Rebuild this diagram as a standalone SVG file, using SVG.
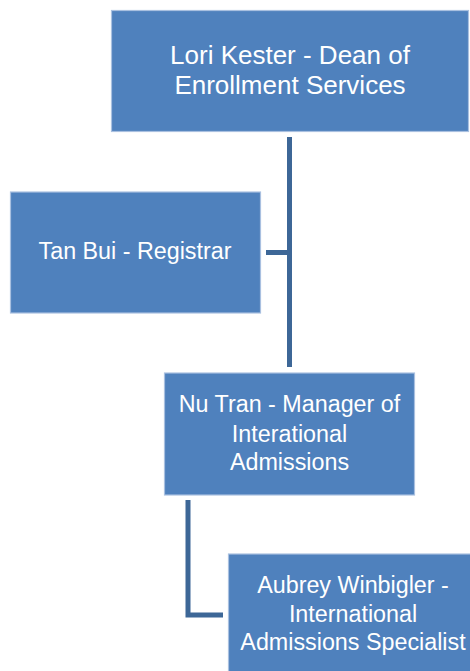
<svg xmlns="http://www.w3.org/2000/svg" width="470" height="671" viewBox="0 0 470 671">
<style>
.box{fill:#4f81bd;stroke:#a9c0e0;stroke-width:1.2}
.t{font-family:"Liberation Sans",Arial,sans-serif;font-size:23.3px;fill:#ffffff;text-anchor:middle}
.big{font-size:26px}
.c{fill:none;stroke:#3d6797;stroke-width:5;stroke-linejoin:miter}
</style>
<rect width="470" height="671" fill="#ffffff"/>
<g id="connectors">
<path class="c" d="M289.5,137 V367"/>
<path class="c" d="M266,252.5 H289.5"/>
<path class="c" d="M188,500 V615 H223"/>
</g>
<g id="lori">
<rect class="box" x="111.5" y="10.5" width="357" height="121"/>
<text class="t big" x="290" y="63.5">Lori Kester - Dean of</text>
<text class="t big" x="290" y="93.5">Enrollment Services</text>
</g>
<g id="tan">
<rect class="box" x="10.5" y="192" width="250" height="121"/>
<text class="t" x="135" y="259">Tan Bui - Registrar</text>
</g>
<g id="nu">
<rect class="box" x="164.5" y="373" width="250" height="122"/>
<text class="t" x="289.5" y="412">Nu Tran - Manager of</text>
<text class="t" x="289.5" y="442">Interational</text>
<text class="t" x="289.5" y="470">Admissions</text>
</g>
<g id="aubrey">
<rect class="box" x="228.5" y="554" width="250" height="122"/>
<text class="t" x="353" y="593">Aubrey Winbigler -</text>
<text class="t" x="353" y="622">International</text>
<text class="t" x="353" y="650">Admissions Specialist</text>
</g>
</svg>
